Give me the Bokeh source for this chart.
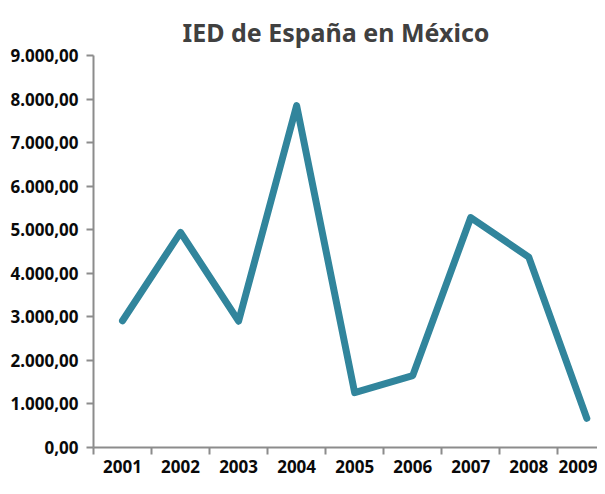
from bokeh.plotting import figure
from bokeh.models import FixedTicker, Title
from bokeh.embed import file_html
from bokeh.resources import INLINE

years = ["2001", "2002", "2003", "2004", "2005", "2006", "2007", "2008", "2009"]
ied = [2910, 4940, 2900, 7850, 1260, 1650, 5280, 4370, 670]
y_ticks = [0, 1000, 2000, 3000, 4000, 5000, 6000, 7000, 8000, 9000]
y_tick_labels = ["0,00", "1.000,00", "2.000,00", "3.000,00", "4.000,00",
                 "5.000,00", "6.000,00", "7.000,00", "8.000,00", "9.000,00"]
title_text = "IED de España en México"

xs = list(range(1, len(years) + 1))

p = figure(width=597, height=486, output_backend="svg", toolbar_location=None,
           x_range=(0.5, 9.184), y_range=(0, 9000),
           min_border_left=93, min_border_right=0, min_border_top=55, min_border_bottom=39)
p.outline_line_color = None
p.xgrid.grid_line_color = None
p.ygrid.grid_line_color = None
p.background_fill_color = "white"
p.border_fill_color = "white"

p.title = Title(text=title_text, align="left", offset=89,
                text_font="Noto Sans", text_font_size="25px",
                text_font_style="bold", text_color="#404040", standoff=14)

p.line(xs, ied, line_width=7, line_color="#31859C", line_join="round", line_cap="round")

axis_color = "#8C8C8C"
# y axis
yax = p.yaxis[0]
yax.ticker = FixedTicker(ticks=y_ticks)
yax.major_label_overrides = {t: l for t, l in zip(y_ticks, y_tick_labels)}
yax.axis_line_color = axis_color
yax.axis_line_width = 2
yax.major_tick_line_color = axis_color
yax.major_tick_line_width = 2
yax.major_tick_out = 7
yax.major_tick_in = 0
yax.minor_tick_line_color = None
yax.major_label_standoff = 8
yax.major_label_text_font = "Noto Sans"
yax.major_label_text_font_style = "bold"
yax.major_label_text_font_size = "17px"
yax.major_label_text_color = "#0A0A0A"

# x axis
xax = p.xaxis[0]
xax.ticker = FixedTicker(ticks=xs, minor_ticks=[x - 0.5 for x in xs])
xax.major_label_overrides = {x: y for x, y in zip(xs, years)}
xax.axis_line_color = axis_color
xax.axis_line_width = 2
xax.major_tick_line_color = None
xax.minor_tick_line_color = axis_color
xax.minor_tick_line_width = 2
xax.minor_tick_out = 7
xax.minor_tick_in = 0
xax.major_label_standoff = 5
xax.major_label_text_font = "Noto Sans"
xax.major_label_text_font_style = "bold"
xax.major_label_text_font_size = "17px"
xax.major_label_text_color = "#0A0A0A"

open("out.html", "w").write(file_html(p, INLINE))
